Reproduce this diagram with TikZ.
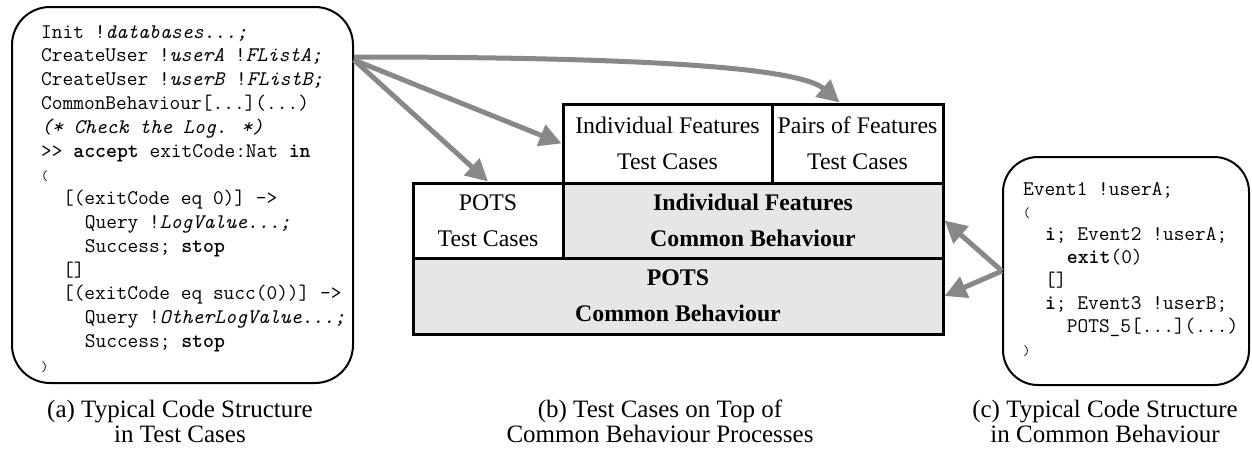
\documentclass[tikz,border=0pt]{standalone}
\usepackage{fontspec}
\setmainfont{Liberation Serif}
\usetikzlibrary{arrows.meta}
\definecolor{arrowgray}{HTML}{888888}
\definecolor{cellgray}{HTML}{E6E6E6}
\newcommand\smallparen[1]{{\fontsize{14}{14}\selectfont #1}}
\newcommand\indtwo{\hspace*{1.05em}}
\newcommand\indfour{\hspace*{2.1em}}
\begin{document}
\begin{tikzpicture}[x=1pt,y=-1pt,
  codebox/.style={draw=black, line width=2pt, inner sep=0pt},
  cell/.style={draw=black, line width=3pt, inner sep=0pt, align=center, font=\fontsize{23.8}{36}\selectfont},
  gcell/.style={cell, fill=cellgray, font=\fontsize{23.8}{36}\selectfont\bfseries},
  arr/.style={draw=arrowgray, line width=5pt, -{Triangle[length=22pt,width=22pt]}},
  caption/.style={anchor=base, inner sep=0pt, font=\fontsize{25}{25}\selectfont},
  code/.style={anchor=base west, inner sep=0pt, font=\ttfamily}]
\useasboundingbox (0,0) rectangle (1252,450);

% box (a)
\node[codebox, rounded corners=38pt, minimum width=341pt, minimum height=376pt] (boxA) at (182.5,195) {};
\node[code] (codeA) at (41,38) {\fontsize{20.8}{23.8}\selectfont\begin{tabular}[t]{@{}l@{}}
Init !\textit{databases...;}\\
CreateUser !\textit{userA} !\textit{FListA;}\\
CreateUser !\textit{userB} !\textit{FListB;}\\
CommonBehaviour[...](...)\\
\textit{(* Check the Log. *)}\\
>> \textbf{accept} exitCode:Nat \textbf{in}\\
\smallparen{(}\\
\indtwo[(exitCode eq 0)] ->\\
\indfour Query !\textit{LogValue...;}\\
\indfour Success; \textbf{stop}\\
\indtwo[]\\
\indtwo[(exitCode eq succ(0))] ->\\
\indfour Query !\textit{OtherLogValue...;}\\
\indfour Success; \textbf{stop}\\
\smallparen{)}
\end{tabular}};

% box (c)
\node[codebox, rounded corners=35pt, minimum width=246pt, minimum height=228pt] (boxC) at (1126,271) {};
\node[code] (codeC) at (1023,195) {\fontsize{20.8}{22.9}\selectfont\begin{tabular}[t]{@{}l@{}}
Event1 !userA;\\
\smallparen{(}\\
\indtwo\textbf{i}; Event2 !userA;\\
\indfour\textbf{exit}(0)\\
\indtwo[]\\
\indtwo\textbf{i}; Event3 !userB;\\
\indfour POTS\_5[...](...)\\
\smallparen{)}
\end{tabular}};

% stack (b)
\node[gcell, minimum width=380pt, minimum height=75pt] (ifCB) at (753,220.5) {Individual Features\\Common Behaviour};
\node[gcell, minimum width=530pt, minimum height=76pt] (potsCB) at (678,296) {POTS\\Common Behaviour};
\node[cell, minimum width=150pt, minimum height=75pt] (potsTC) at (488,220.5) {POTS\\Test Cases};
\node[cell, minimum width=209pt, minimum height=79pt] (ifTC) at (667.5,143.5) {Individual Features\\Test Cases};
\node[cell, minimum width=171pt, minimum height=79pt] (pairsTC) at (857.5,143.5) {Pairs of Features\\Test Cases};

% arrows
\coordinate (srcA) at ([yshift=-51pt]boxA.north east);
\coordinate (srcB) at ([yshift=-54pt]boxA.north east);
\draw[arr] (srcA) .. controls (650,57) and (800,68) .. ([xshift=-18pt]pairsTC.north);
\draw[arr] (srcB) -- (ifTC.west);
\draw[arr] (srcB) -- (potsTC.north);
\draw[arr] (boxC.west) -- (ifCB.east);
\draw[arr] (boxC.west) -- (potsCB.east);

% captions
\node[caption] (capA) at (180,417) {\begin{tabular}[t]{@{}c@{}}(a) Typical Code Structure\\in Test Cases\end{tabular}};
\node[caption] (capB) at (660,417) {\begin{tabular}[t]{@{}c@{}}(b) Test Cases on Top of\\Common Behaviour Processes\end{tabular}};
\node[caption] (capC) at (1105,417) {\begin{tabular}[t]{@{}c@{}}(c) Typical Code Structure\\in Common Behaviour\end{tabular}};
\end{tikzpicture}
\end{document}
